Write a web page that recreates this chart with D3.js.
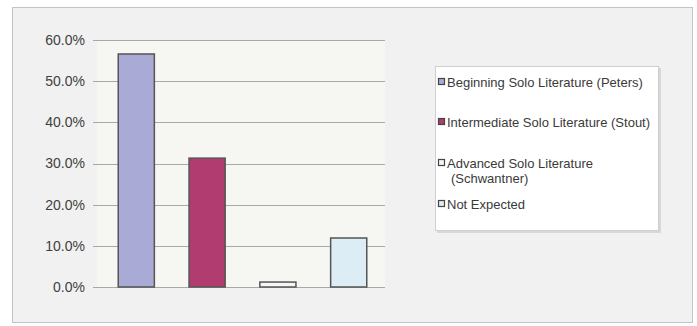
<!DOCTYPE html>
<html>
<head>
<meta charset="utf-8">
<script src="https://cdn.jsdelivr.net/npm/d3@7"></script>
<style>
  body { margin: 0; background: #fff; }
  svg { display: block; font-family: Arial, "Liberation Sans", sans-serif; }
</style>
</head>
<body>
<div id="graph"></div>
<script>
// data
var categories = ["Beginning Solo Literature (Peters)", "Intermediate Solo Literature (Stout)", "Advanced Solo Literature (Schwantner)", "Not Expected"];
var legendLines = [["Beginning Solo Literature (Peters)"], ["Intermediate Solo Literature (Stout)"], ["Advanced Solo Literature", "(Schwantner)"], ["Not Expected"]];
var values = [0.566, 0.313, 0.012, 0.119];
var colors = ["#aaaad6", "#b03c70", "#f6f6f6", "#dcedf6"];
var yTicks = [0, 0.1, 0.2, 0.3, 0.4, 0.5, 0.6];

var W = 697, H = 326;
var svg = d3.select("#graph").append("svg").attr("width", W).attr("height", H);

// cadre extérieur
svg.append("rect").attr("x", 12.5).attr("y", 7.5).attr("width", 680).attr("height", 315)
  .attr("fill", "#f1f1f1").attr("stroke", "#c4c4c4");

var margin = {left: 97, top: 40, right: 385, bottom: 287};
var x = d3.scaleBand().domain(categories).range([97, 388]).paddingInner(0.49).paddingOuter(0.3);
var y = d3.scaleLinear().domain([0, 0.6]).range([margin.bottom, margin.top]);

// fond de la zone de tracé
svg.append("rect").attr("x", margin.left).attr("y", margin.top)
  .attr("width", margin.right - margin.left).attr("height", margin.bottom - margin.top)
  .attr("fill", "#f6f6f2");

// lignes de grille
svg.append("g").selectAll("line").data(yTicks).enter().append("line")
  .attr("x1", margin.left - 4).attr("x2", margin.right)
  .attr("y1", function(d) { return Math.round(y(d)) + 0.5; })
  .attr("y2", function(d) { return Math.round(y(d)) + 0.5; })
  .attr("stroke", "#a8a8a8").attr("stroke-width", 1.2);

// axe Y
var yAxis = svg.append("g").attr("transform", "translate(" + (margin.left - 4) + ",0)")
  .call(d3.axisLeft(y).tickValues(yTicks).tickFormat(d3.format(".1%")).tickSize(0).tickPadding(8));
yAxis.select(".domain").remove();
yAxis.selectAll("text").attr("font-size", 14).attr("fill", "#404040");

// barres
svg.append("g").selectAll("rect").data(values).enter().append("rect")
  .attr("x", function(d, i) { return x(categories[i]); })
  .attr("y", function(d) { return y(d); })
  .attr("width", x.bandwidth())
  .attr("height", function(d) { return y(0) - y(d); })
  .attr("fill", function(d, i) { return colors[i]; })
  .attr("stroke", "#555").attr("stroke-width", 1.5);

// légende
var lg = svg.append("g");
lg.append("rect").attr("x", 437).attr("y", 68).attr("width", 224).attr("height", 165).attr("fill", "#d8d8d8");
lg.append("rect").attr("x", 435.5).attr("y", 66.5).attr("width", 223).attr("height", 164)
  .attr("fill", "#fff").attr("stroke", "#cfcfcf");
var legY = [82, 122, 163, 204];
legendLines.forEach(function(lines, i) {
  lg.append("rect").attr("x", 438.5).attr("y", legY[i] - 3.5).attr("width", 6).attr("height", 6)
    .attr("fill", colors[i]).attr("stroke", "#444").attr("stroke-width", 1.2);
  var t = lg.append("text").attr("y", legY[i])
    .attr("font-size", 13).attr("fill", "#3a3a3a").attr("textLength", null);
  lines.forEach(function(l, j) {
    t.append("tspan").attr("x", j === 0 ? 447 : 451).attr("dy", j === 0 ? "0.35em" : "1.2em").text(l);
  });
});
</script>
</body>
</html>
